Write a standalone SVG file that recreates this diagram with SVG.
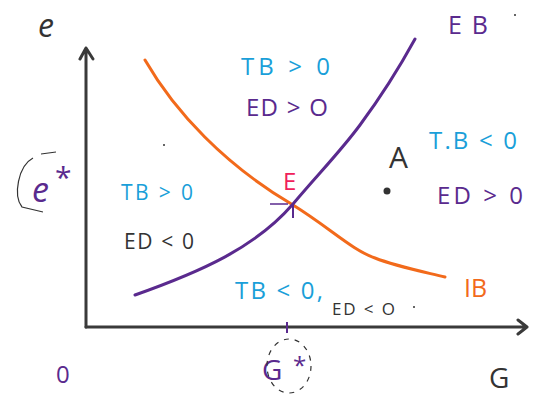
<svg xmlns="http://www.w3.org/2000/svg" width="549" height="395" viewBox="0 0 549 395">
<style>
text{font-family:"Open Sans","Liberation Sans",sans-serif;}
.cy{fill:#1a9fd9;font-size:24px;}
.pu{fill:#5a2a8e;font-size:24px;}
.dk{fill:#333;font-size:21px;}
.ax{stroke:#3a3a3a;stroke-width:3;fill:none;stroke-linecap:round;stroke-linejoin:round;}
.crv{fill:none;stroke-width:3;stroke-linecap:round;}
</style>
<rect width="549" height="395" fill="#fff"/>
<g id="axes">
<path class="ax" d="M86,327 V48 M80,59 L86,48 L93,59"/>
<path class="ax" d="M86,327 H527 M518,320 L527,327 L518,334"/>
<text x="38" y="37" style="fill:#333;font-size:32px;font-style:italic">e</text>
<text x="489" y="388" style="fill:#333;font-size:28px">G</text>
<text x="56" y="383" style="fill:#5a2a8e;font-size:24px">0</text>
</g>
<g id="connectors">
<path id="IB" class="crv" stroke="#f26a1b" d="M145,60 C175,112 225,165 293,205 C330,228 352,250 375,258 C395,266 420,271 445,277"/>
<path id="EB" class="crv" stroke="#5a2a8e" d="M135,295 C200,272 255,248 293,204 C320,172 340,152 360,125 C380,98 398,70 415,39"/>
<path stroke="#5a2a8e" stroke-width="1.5" d="M270,204 H288"/>
<path stroke="#5a2a8e" stroke-width="2" d="M293,205 V218"/>
<path stroke="#5a2a8e" stroke-width="2" d="M287,322 V333"/>
</g>
<g id="labels">
<text class="pu" x="448" y="34" style="font-size:25px" textLength="40" lengthAdjust="spacing">EB</text>
<circle cx="515" cy="15" r="1" fill="#333"/>
<text class="cy" x="241" y="75" textLength="89" lengthAdjust="spacing">TB &gt; 0</text>
<text class="pu" x="246" y="116" textLength="82" lengthAdjust="spacing">ED &gt; O</text>
<text class="cy" x="429" y="149" textLength="88" lengthAdjust="spacing">T.B &lt; 0</text>
<text x="389" y="168" style="fill:#333;font-size:30px">A</text>
<circle cx="387" cy="191" r="3.5" fill="#333"/>
<text class="pu" x="437" y="204" textLength="86" lengthAdjust="spacing">ED &gt; 0</text>
<text x="283" y="190" style="fill:#f0205a;font-size:24px">E</text>
<text class="cy" x="121" y="200" style="font-size:21px" textLength="72" lengthAdjust="spacing">TB &gt; 0</text>
<text class="dk" x="124" y="249" textLength="70" lengthAdjust="spacing">ED &lt; 0</text>
<circle cx="164" cy="145" r="1" fill="#333"/>
<text class="cy" x="235" y="299" textLength="88" lengthAdjust="spacing">TB &lt; 0,</text>
<text x="332" y="315" style="fill:#333;font-size:17px" textLength="63" lengthAdjust="spacing">ED &lt; O</text>
<circle cx="414" cy="307" r="1" fill="#333"/>
<text x="464" y="297" style="fill:#f26a1b;font-size:25px">IB</text>
<text x="32" y="202" style="fill:#5a2a8e;font-size:34px;font-style:italic">e</text>
<text x="55" y="188" style="fill:#5a2a8e;font-size:30px">*</text>
<path d="M33,158 C18,166 13,196 22,207 L43,212 M41,154 L56,152" fill="none" stroke="#333" stroke-width="1.2"/>
<text x="262" y="380" style="fill:#5a2a8e;font-size:28px">G</text>
<text x="293" y="374" style="fill:#5a2a8e;font-size:24px">*</text>
<ellipse cx="289" cy="366" rx="22" ry="27" fill="none" stroke="#333" stroke-width="1.2" stroke-dasharray="5,6"/>
</g>
</svg>
